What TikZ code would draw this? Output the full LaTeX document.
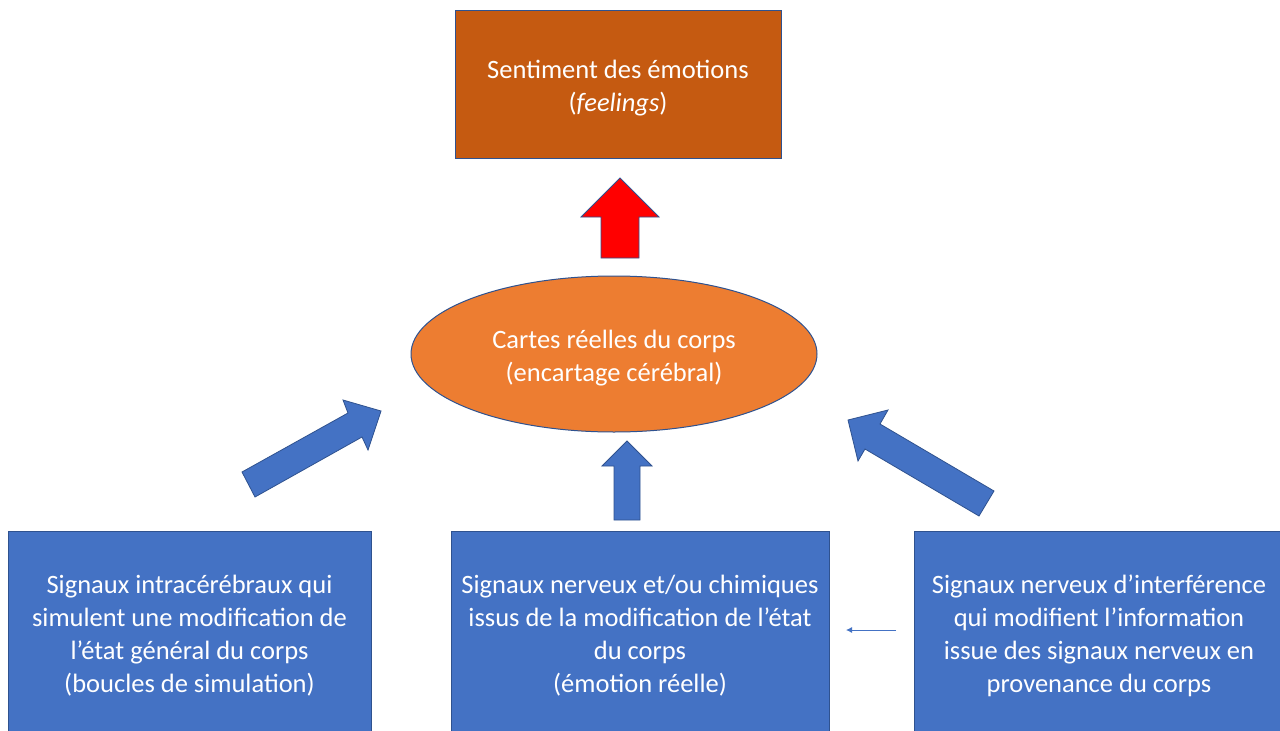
\documentclass[tikz,border=0pt]{standalone}
\usepackage{fontspec}
\setmainfont{Carlito}
\usetikzlibrary{shapes.geometric,arrows.meta}
\definecolor{darkorange}{HTML}{C55A11}
\definecolor{lightorange}{HTML}{ED7D31}
\definecolor{boxblue}{HTML}{4472C4}
\definecolor{edgeblue}{HTML}{2F528F}
\definecolor{arrowred}{HTML}{FF0000}
\tikzset{
  txt/.style={text=white, align=center, font=\fontsize{26.5}{33}\selectfont},
  bluebox/.style={rectangle, draw=edgeblue, fill=boxblue, line width=1pt, txt, inner sep=0pt},
  blockarrow/.style={draw=edgeblue, fill=boxblue, line width=0.8pt, line join=miter},
  redarrow/.style={draw=edgeblue, fill=arrowred, line width=0.8pt},
  thinarrow/.style={draw=boxblue, line width=0.8pt, -{Latex[length=6pt,width=6pt]}}
}
\begin{document}
\begin{tikzpicture}[x=1pt,y=-1pt]
\useasboundingbox (0,0) rectangle (1280,731);
\clip (0,0) rectangle (1280,731);
\fill[white] (0,0) rectangle (1280,731);

% top box
\node[rectangle, draw=edgeblue, fill=darkorange, line width=1pt, txt, minimum width=326pt, minimum height=148pt, inner sep=0pt] (feel) at (618,84) {\rule{0pt}{26pt}Sentiment des émotions\\(\textit{feelings})};

% red arrow
\draw[redarrow] (620,178) -- (659,217) -- (639,217) -- (639,258) -- (601,258) -- (601,217) -- (581,217) -- cycle;

% ellipse
\node[ellipse, draw=edgeblue, fill=lightorange, line width=1pt, txt, minimum width=406pt, minimum height=156pt, inner sep=0pt] (cartes) at (614,354) {\rule{0pt}{26pt}Cartes réelles du corps\\(encartage cérébral)};

% middle up arrow
\draw[blockarrow] (627,441) -- (652,466) -- (640,466) -- (640,520) -- (614,520) -- (614,466) -- (602,466) -- cycle;

% left diagonal arrow
\draw[blockarrow] (381,411) -- (368,450) -- (362,437) -- (255,497) -- (242,472) -- (348,413) -- (343,400) -- cycle;

% right diagonal arrow
\draw[blockarrow] (848,420) -- (888,410) -- (880,424) -- (994,491) -- (979,516) -- (865,449) -- (858,461) -- cycle;

% bottom boxes
\node[bluebox, minimum width=363pt, minimum height=210pt] (simul) at (189.5,636) {Signaux intracérébraux qui\\simulent une modification de\\l’état général du corps\\(boucles de simulation)};
\node[bluebox, minimum width=378pt, minimum height=210pt] (reel) at (640,636) {Signaux nerveux et/ou chimiques\\issus de la modification de l’état\\du corps\\(émotion réelle)};
\node[bluebox, minimum width=370pt, minimum height=210pt] (interf) at (1099,636) {Signaux nerveux d’interférence\\qui modifient l’information\\issue des signaux nerveux en\\provenance du corps};

% thin arrow
\coordinate (ta) at (896,630);
\coordinate (tb) at (846,630);
\draw[thinarrow] (ta) -- (tb);
\end{tikzpicture}
\end{document}
